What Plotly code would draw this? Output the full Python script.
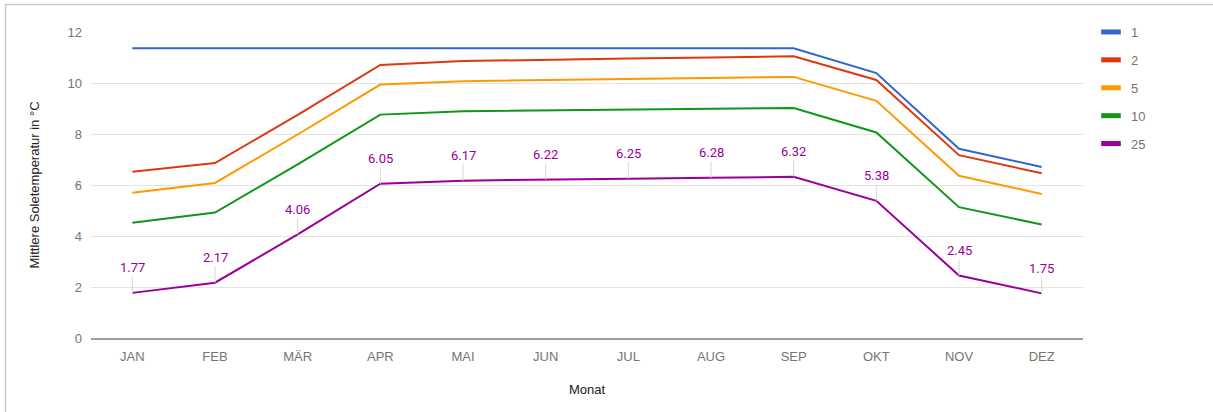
import plotly.graph_objects as go

# Monthly mean brine temperature per operating year
months = ["JAN", "FEB", "MÄR", "APR", "MAI", "JUN", "JUL", "AUG", "SEP", "OKT", "NOV", "DEZ"]
series_names = ["1", "2", "5", "10", "25"]

temp_1 = [11.36, 11.36, 11.36, 11.36, 11.36, 11.36, 11.36, 11.36, 11.36, 10.39, 7.42, 6.71]
temp_2 = [6.52, 6.86, 8.75, 10.71, 10.86, 10.92, 10.96, 11.00, 11.05, 10.12, 7.17, 6.46]
temp_5 = [5.70, 6.08, 7.98, 9.94, 10.07, 10.12, 10.16, 10.20, 10.24, 9.30, 6.36, 5.65]
temp_10 = [4.52, 4.92, 6.81, 8.76, 8.89, 8.93, 8.96, 8.99, 9.02, 8.06, 5.13, 4.45]
temp_25 = [1.77, 2.17, 4.06, 6.05, 6.17, 6.22, 6.25, 6.28, 6.32, 5.38, 2.45, 1.75]

colors = ["#3366cc", "#dc3912", "#ff9900", "#109618", "#990099"]
all_series = [temp_1, temp_2, temp_5, temp_10, temp_25]

FONT = "Liberation Sans, Arial, sans-serif"

fig = go.Figure()
for i, (name, vals, col) in enumerate(zip(series_names, all_series, colors)):
    fig.add_trace(go.Scatter(
        x=months, y=vals, mode="lines", name=name,
        line=dict(color=col, width=2),
        showlegend=False, hoverinfo="x+y+name",
    ))
    # compact bar-shaped legend key
    fig.add_trace(go.Scatter(
        x=[None], y=[None], mode="markers", name=name,
        marker=dict(symbol="line-ew", size=14, color=col,
                    line=dict(color=col, width=5)),
        legendgroup=f"g{i}", showlegend=True,
    ))

# value labels for the 25-year series
for m, v in zip(months, temp_25):
    fig.add_annotation(
        x=m, y=v, text=f"{v:.2f}", showarrow=True,
        arrowhead=0, arrowwidth=1, arrowcolor="#d6d6d6",
        ax=0, ay=-25, standoff=0,
        font=dict(family="Roboto, " + FONT, size=13, color="#990099"),
    )

# outer frame lines (top and left)
x_left, x_right = 91, 1083
y_top, y_bot = 32, 338
W, H = 1213, 412
def px(x):
    return (x - x_left) / (x_right - x_left)
def py(y):
    return (y_bot - y) / (y_bot - y_top)

frame_col = "#c9c9c9"
fig.add_shape(type="line", xref="paper", yref="paper",
              x0=px(5), x1=px(W), y0=py(4.5), y1=py(4.5),
              line=dict(color=frame_col, width=1.5))
fig.add_shape(type="line", xref="paper", yref="paper",
              x0=px(5.5), x1=px(5.5), y0=py(4.5), y1=py(H),
              line=dict(color=frame_col, width=1.5))

fig.update_layout(
    width=W, height=H,
    margin=dict(l=x_left, r=W - x_right, t=y_top, b=H - y_bot),
    paper_bgcolor="white", plot_bgcolor="white",
    font=dict(family=FONT, size=13, color="#757575"),
    showlegend=True,
    legend=dict(
        x=px(1091), xanchor="left", y=py(17), yanchor="top",
        font=dict(family=FONT, size=13, color="#757575"),
        tracegroupgap=8, itemwidth=30, bgcolor="rgba(0,0,0,0)",
    ),
    xaxis=dict(
        type="category", range=[-0.5, 11.5],
        showgrid=False, showline=True, linecolor="#9e9e9e", linewidth=1.5,
        ticks="", ticklabelstandoff=6,
        tickfont=dict(size=13, color="#757575"),
        title=dict(text="Monat", standoff=22,
                   font=dict(size=13, color="#222222")),
        zeroline=False,
    ),
    yaxis=dict(
        range=[0, 12], tickvals=[0, 2, 4, 6, 8, 10, 12],
        showgrid=True, gridcolor="#e3e3e3", gridwidth=1,
        zeroline=False, showline=False, ticks="", ticklabelstandoff=8,
        tickfont=dict(size=13, color="#757575"),
        title=dict(text="Mittlere Soletemperatur in °C", standoff=24,
                   font=dict(size=13, color="#222222")),
    ),
)

fig.write_html("out.html")
